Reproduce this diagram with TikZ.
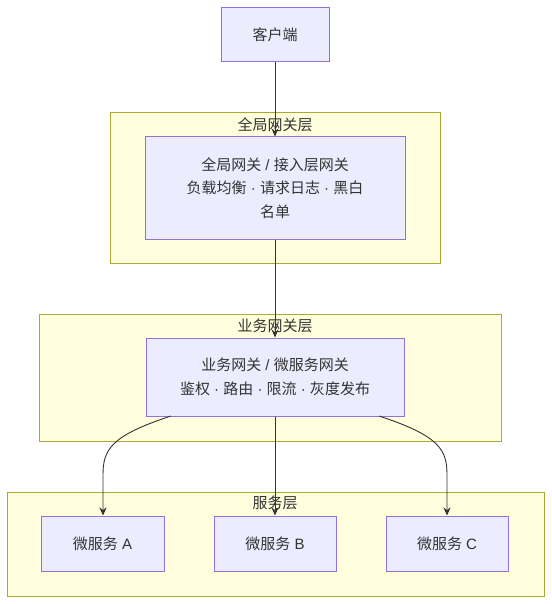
\documentclass[tikz,border=0pt]{standalone}
\usepackage{fontspec}
\setmainfont{Noto Sans CJK SC}
\newfontfamily\latinf{Liberation Sans}
\newcommand{\sepdot}{{\latinf\ ·\ }}
\newcommand{\slashsep}{{\latinf\ /\ }}
\usetikzlibrary{arrows.meta}
\definecolor{nodefill}{HTML}{ECECFF}
\definecolor{nodeline}{HTML}{9370DB}
\definecolor{clfill}{HTML}{FFFFDE}
\definecolor{clline}{HTML}{AAAA33}
\definecolor{edge}{HTML}{333333}
\definecolor{txt}{HTML}{333333}
\begin{document}
\begin{tikzpicture}[x=1pt,y=-1pt,
  box/.style={draw=nodeline,fill=nodefill,line width=1pt,inner sep=0pt,align=center,font=\fontsize{15}{23.5}\selectfont,text=txt},
  cluster/.style={draw=clline,fill=clfill,line width=1pt,inner sep=0pt},
  cltitle/.style={font=\fontsize{15}{18}\selectfont,text=txt},
  conn/.style={draw=edge,line width=0.9pt,-{Stealth[length=8pt,width=7pt]}}]
\useasboundingbox (0,0) rectangle (551,604);
% clusters
\node[cluster,minimum width=330pt,minimum height=151pt,anchor=north west] (cg) at (110,112) {};
\node[cltitle] (cgt) at (275,125) {全局网关层};
\node[cluster,minimum width=462pt,minimum height=127pt,anchor=north west] (cb) at (39,314) {};
\node[cltitle] (cbt) at (275,326) {业务网关层};
\node[cluster,minimum width=537pt,minimum height=104pt,anchor=north west] (cs) at (7,492) {};
\node[cltitle] (cst) at (275,503) {服务层};
% nodes
\node[box,minimum width=108pt,minimum height=54pt] (client) at (275,35) {客户端};
\node[box,minimum width=260pt,minimum height=102pt] (gg) at (275,188) {全局网关\slashsep 接入层网关\\负载均衡\sepdot 请求日志\sepdot 黑白\\名单};
\node[box,minimum width=258pt,minimum height=78pt] (bg) at (275,377) {业务网关\slashsep 微服务网关\\鉴权\sepdot 路由\sepdot 限流\sepdot 灰度发布};
\node[box,minimum width=123pt,minimum height=55pt] (a) at (102.5,543.5) {微服务{\latinf\ A}};
\node[box,minimum width=122pt,minimum height=55pt] (b) at (275,543.5) {微服务{\latinf\ B}};
\node[box,minimum width=122pt,minimum height=55pt] (c) at (447,543.5) {微服务{\latinf\ C}};
% edges
\draw[conn] (client) -- (gg);
\draw[conn] (gg) -- (bg);
\draw[conn] (bg.south) -- (b.north);
\coordinate (bl) at (171,416);
\coordinate (br) at (379,416);
\draw[conn] (bl) .. controls (110,436) and (103,450) .. (103,475) -- (a.north -| 103,0);
\draw[conn] (br) .. controls (440,436) and (447,450) .. (447,475) -- (c.north -| 447,0);
\end{tikzpicture}
\end{document}
